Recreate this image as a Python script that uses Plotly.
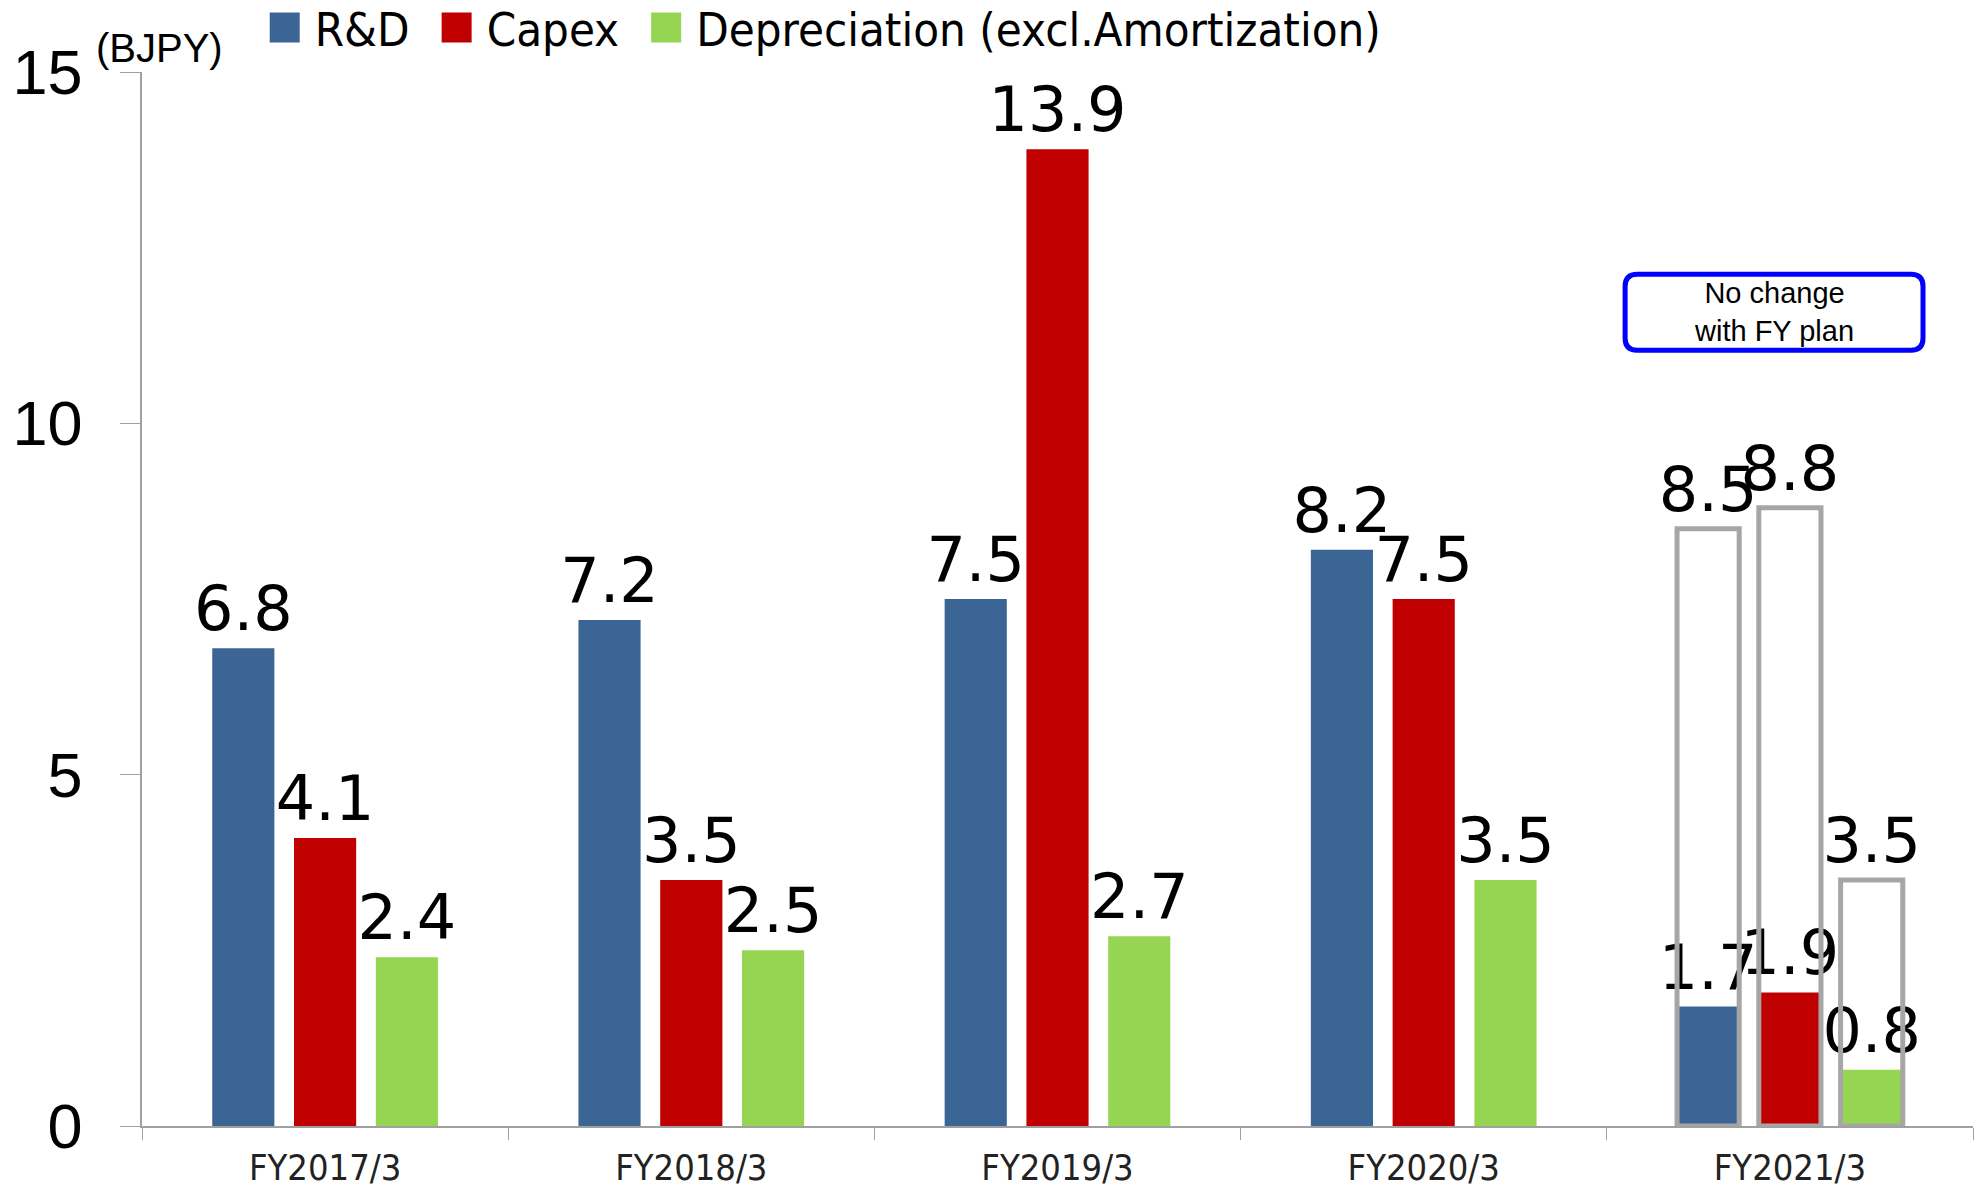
import plotly.graph_objects as go

categories = ["FY2017/3", "FY2018/3", "FY2019/3", "FY2020/3", "FY2021/3"]
rd = [6.8, 7.2, 7.5, 8.2, 1.7]
capex = [4.1, 3.5, 13.9, 7.5, 1.9]
depr = [2.4, 2.5, 2.7, 3.5, 0.8]
plan_cat = ["FY2021/3"]
plan_rd = [8.5]
plan_capex = [8.8]
plan_depr = [3.5]

series_names = ["R&D", "Capex", "Depreciation (excl.Amortization)"]
colors = ["#3A6595", "#C00000", "#96D552"]
groups = ["rd", "cx", "dp"]

label_font = dict(family="DejaVu Sans, Verdana, sans-serif", size=62, color="black")
cond = "DejaVu Sans Condensed, Liberation Sans Narrow, DejaVu Sans, sans-serif"

fig = go.Figure()
for name, vals, col, g in zip(series_names, [rd, capex, depr], colors, groups):
    fig.add_trace(go.Bar(
        x=categories, y=vals, name=name, offsetgroup=g,
        marker=dict(color=col, line=dict(width=0)),
        text=[f"{v:.1f}" for v in vals], textposition="outside",
        textfont=label_font, constraintext="none", cliponaxis=False,
    ))
for vals, g in zip([plan_rd, plan_capex, plan_depr], groups):
    fig.add_trace(go.Bar(
        x=plan_cat, y=vals, offsetgroup=g, showlegend=False,
        marker=dict(color="rgba(0,0,0,0)", line=dict(color="#A6A6A6", width=5)),
        text=[f"{v:.1f}" for v in vals], textposition="outside",
        textfont=label_font, constraintext="none", cliponaxis=False,
    ))

# rounded rectangle for the note box (paper coordinates)
x0, x1, y0, y1 = 0.810, 0.9727, 0.736, 0.808
rx, ry = 0.0066, 0.0114
path = (f"M {x0+rx},{y1} L {x1-rx},{y1} Q {x1},{y1} {x1},{y1-ry} "
        f"L {x1},{y0+ry} Q {x1},{y0} {x1-rx},{y0} L {x0+rx},{y0} "
        f"Q {x0},{y0} {x0},{y0+ry} L {x0},{y1-ry} Q {x0},{y1} {x0+rx},{y1} Z")

fig.update_layout(
    width=1983, height=1190,
    margin=dict(l=142, r=10, t=72, b=64, autoexpand=False),
    plot_bgcolor="white", paper_bgcolor="white",
    barmode="group", bargap=0.33, bargroupgap=0.24,
    showlegend=True,
    legend=dict(orientation="h", x=0.055, xanchor="left", y=1.0417, yanchor="middle",
                itemwidth=62,
                font=dict(family=cond, size=47, color="black"),
                bgcolor="rgba(0,0,0,0)", itemclick=False),
    xaxis=dict(showline=True, linecolor="#A0A0A0", linewidth=1.5,
               ticks="outside", tickson="boundaries", ticklen=12, tickcolor="#A0A0A0",
               ticklabelstandoff=9,
               tickfont=dict(family=cond, size=36, color="#222222"),
               showgrid=False, zeroline=False),
    yaxis=dict(range=[0, 15], tickvals=[0, 5, 10, 15], showline=True, linecolor="#A0A0A0",
               linewidth=1.5, ticks="outside", ticklen=20, tickcolor="#A0A0A0",
               ticklabelstandoff=25,
               tickfont=dict(family="Liberation Sans, Arial, sans-serif", size=63, color="black"),
               showgrid=False, zeroline=False),
    shapes=[dict(type="path", xref="paper", yref="paper", path=path,
                 line=dict(color="#0000FF", width=5), fillcolor="white")],
    annotations=[
        dict(text="(BJPY)", xref="paper", yref="paper", x=(159-142)/1831, y=(1126-47)/1054.5,
             xanchor="center", yanchor="middle", showarrow=False,
             font=dict(family="Liberation Sans, Arial, sans-serif", size=40, color="black")),
        dict(text="No change<br>with FY plan", xref="paper", yref="paper",
             x=(x0+x1)/2, y=(y0+y1)/2, xanchor="center", yanchor="middle", showarrow=False,
             align="center",
             font=dict(family="Liberation Sans, Arial, sans-serif", size=29, color="black")),
    ],
)

# enlarge the legend colour swatches to match the reference's large squares
post = """
document.body.style.margin='0';
document.body.style.overflow='hidden';
var gd = document.getElementById('{plot_id}');
gd.querySelectorAll('.legend .legendpoints path').forEach(function(p){
    p.setAttribute('d','M-9,-15H21V15H-9Z');
});
"""

fig.write_html("out.html", config={"displayModeBar": False}, post_script=post)
